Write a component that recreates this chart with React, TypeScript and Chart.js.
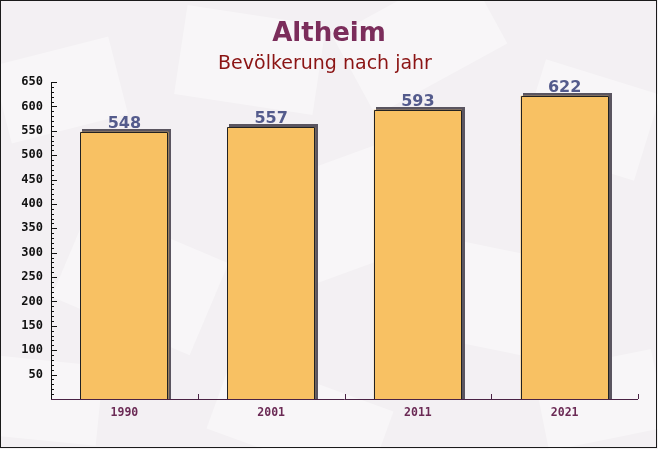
import React, { useEffect, useRef } from "react";
import { Chart, registerables } from "chart.js";

Chart.register(...registerables);

const chartTitle = "Altheim";
const chartSubtitle = "Bevölkerung nach jahr";
const categories = ["1990", "2001", "2011", "2021"];
const populationValues = [548, 557, 593, 622];
const yAxisMax = 650;
const yMajorStep = 50;
const yMinorStep = 10;

const backgroundPlugin = {
  id: "bgPlugin",
  beforeDraw(chart: any) {
    const ctx = chart.ctx;
    const w = chart.width;
    const h = chart.height;
    ctx.save();
    ctx.fillStyle = "#f3f0f3";
    ctx.fillRect(0, 0, w, h);
    const shapes = [
      [60, 90, 120, 80, -0.25],
      [250, 60, 140, 90, 0.15],
      [420, 40, 150, 90, -0.5],
      [590, 120, 120, 90, 0.3],
      [140, 280, 150, 100, 0.4],
      [330, 220, 160, 110, -0.35],
      [500, 300, 150, 100, 0.2],
      [40, 400, 120, 80, 0.1],
      [300, 420, 170, 80, 0.35],
      [600, 400, 120, 80, -0.2],
    ];
    ctx.fillStyle = "rgba(255,255,255,0.4)";
    for (const [cx, cy, sw, sh, r] of shapes) {
      ctx.save();
      ctx.translate(cx, cy);
      ctx.rotate(r);
      ctx.fillRect(-sw / 2, -sh / 2, sw, sh);
      ctx.restore();
    }
    ctx.restore();
  },
};

const decorPlugin = {
  id: "decorPlugin",
  beforeDatasetsDraw(chart: any) {
    const ctx = chart.ctx;
    const meta = chart.getDatasetMeta(0);
    const yScale = chart.scales.y;
    const base = Math.round(yScale.getPixelForValue(0));
    ctx.save();
    ctx.fillStyle = "#5a5560";
    meta.data.forEach((bar: any) => {
      const l = Math.round(bar.x - bar.width / 2);
      const r = Math.round(bar.x + bar.width / 2);
      const t = Math.round(bar.y);
      ctx.fillRect(l + 2, t - 3, r - l + 1, base - t + 3);
    });
    ctx.restore();
  },
  afterDatasetsDraw(chart: any) {
    const ctx = chart.ctx;
    const meta = chart.getDatasetMeta(0);
    const area = chart.chartArea;
    const yScale = chart.scales.y;
    const xScale = chart.scales.x;
    const base = Math.round(yScale.getPixelForValue(0));
    ctx.save();
    // crisp bar outlines
    ctx.strokeStyle = "#222";
    ctx.lineWidth = 1;
    meta.data.forEach((bar: any) => {
      const l = Math.round(bar.x - bar.width / 2);
      const r = Math.round(bar.x + bar.width / 2);
      const t = Math.round(bar.y);
      ctx.beginPath();
      ctx.moveTo(l + 0.5, base);
      ctx.lineTo(l + 0.5, t + 0.5);
      ctx.lineTo(r - 0.5, t + 0.5);
      ctx.lineTo(r - 0.5, base);
      ctx.stroke();
    });
    // value labels
    ctx.font = "bold 16px 'DejaVu Sans'";
    ctx.fillStyle = "#545b8c";
    ctx.textAlign = "center";
    ctx.textBaseline = "alphabetic";
    meta.data.forEach((bar: any, i: number) => {
      ctx.fillText(String(populationValues[i]), bar.x, Math.round(bar.y) - 4);
    });
    // y axis ticks (inward)
    ctx.strokeStyle = "#111";
    ctx.beginPath();
    for (let v = 0; v <= yAxisMax; v += yMinorStep) {
      const py = Math.round(yScale.getPixelForValue(v)) + 0.5;
      const len = v % yMajorStep === 0 ? 6 : 3;
      ctx.moveTo(area.left, py);
      ctx.lineTo(area.left + len, py);
    }
    ctx.stroke();
    // x axis category separators
    ctx.strokeStyle = "#4a2244";
    ctx.beginPath();
    const n = categories.length;
    for (let i = 0; i <= n; i++) {
      const px = Math.round(xScale.getPixelForValue(i - 0.5)) + 0.5;
      ctx.moveTo(px, area.bottom);
      ctx.lineTo(px, area.bottom - 5);
    }
    ctx.stroke();
    // axis lines
    ctx.strokeStyle = "#111";
    ctx.beginPath();
    ctx.moveTo(Math.round(area.left) + 0.5, area.top);
    ctx.lineTo(Math.round(area.left) + 0.5, area.bottom);
    ctx.stroke();
    ctx.strokeStyle = "#4a2244";
    ctx.beginPath();
    ctx.moveTo(area.left, Math.round(area.bottom) + 0.5);
    ctx.lineTo(area.right, Math.round(area.bottom) + 0.5);
    ctx.stroke();
    ctx.restore();
  },
  afterDraw(chart: any) {
    const ctx = chart.ctx;
    ctx.save();
    ctx.textAlign = "center";
    ctx.textBaseline = "alphabetic";
    ctx.font = "bold 26px 'DejaVu Sans'";
    ctx.fillStyle = "#7b2d5b";
    ctx.fillText(chartTitle, 329, 41);
    ctx.font = "19px 'DejaVu Sans'";
    ctx.fillStyle = "#8b1414";
    ctx.fillText(chartSubtitle, 325, 69);
    // frame
    ctx.fillStyle = "#1a1a1a";
    ctx.fillRect(0, 0, 657, 1);
    ctx.fillRect(0, 0, 1, 448);
    ctx.fillRect(656, 0, 1, 448);
    ctx.fillRect(0, 447, 657, 1);
    ctx.restore();
  },
};

export default function App() {
  const canvasRef = useRef<HTMLCanvasElement | null>(null);

  useEffect(() => {
    document.body.style.margin = "0";
    const canvas = canvasRef.current;
    if (!canvas) return;
    const chart = new Chart(canvas, {
      type: "bar",
      data: {
        labels: categories,
        datasets: [
          {
            data: populationValues,
            backgroundColor: "#f8c163",
            borderWidth: 0,
            categoryPercentage: 1,
            barPercentage: 0.6,
          },
        ],
      },
      plugins: [backgroundPlugin, decorPlugin],
      options: {
        responsive: false,
        animation: false,
        devicePixelRatio: 1,
        layout: { padding: { left: 0, right: 20, top: 82, bottom: 0 } },
        plugins: {
          legend: { display: false },
          title: { display: false },
          tooltip: { enabled: false },
        },
        scales: {
          x: {
            grid: { display: false, drawTicks: false },
            border: { display: false },
            ticks: {
              padding: 7,
              color: "#6b2a55",
              font: { family: "'DejaVu Sans Mono'", size: 11.5, weight: "bold" },
            },
            afterFit(scale: any) {
              scale.height = 50;
            },
          },
          y: {
            min: 0,
            max: yAxisMax,
            grid: { display: false, drawTicks: false },
            border: { display: false },
            ticks: {
              stepSize: yMajorStep,
              padding: 8,
              color: "#111",
              font: { family: "'DejaVu Sans Mono'", size: 12, weight: "bold" },
              callback: (v: any) => (Number(v) === 0 ? "" : String(v)),
            },
            afterFit(scale: any) {
              scale.width = 51;
            },
          },
        },
      },
    });
    return () => chart.destroy();
  }, []);

  return (
    <div style={{ position: "absolute", left: 0, top: 0, width: 658, height: 449 }}>
      <canvas ref={canvasRef} width={658} height={449} style={{ display: "block" }} />
    </div>
  );
}
